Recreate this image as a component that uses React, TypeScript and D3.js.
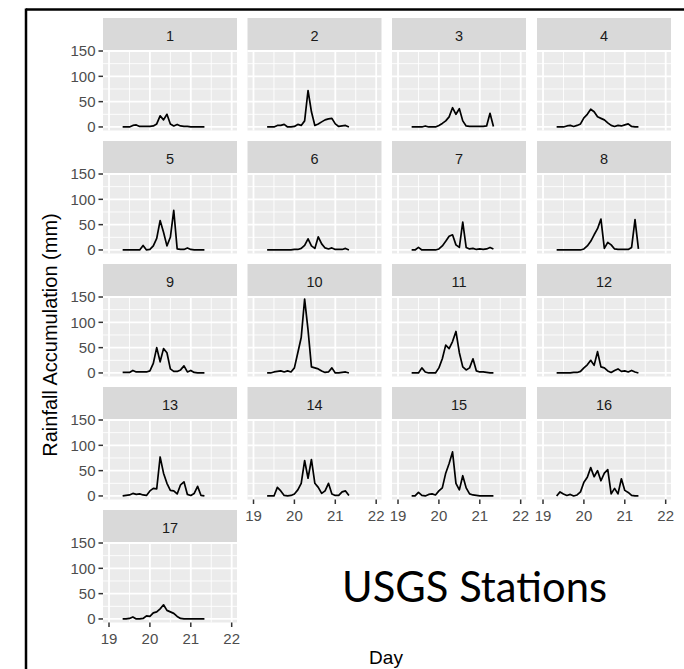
import React from 'react';
import * as d3 from 'd3';

// hours since 00:00 on day 19, one reading every 2 hours
const hours = [8, 10, 12, 14, 16, 18, 20, 22, 24, 26, 28, 30, 32, 34, 36, 38, 40, 42, 44, 46, 48, 50, 52, 54, 56];

// rainfall accumulation (mm) per USGS station
const s1 = [0, 0, 0, 3, 4, 1, 1, 1, 1, 2, 6, 22, 14, 25, 6, 2, 5, 2, 1, 1, 0, 0, 0, 0, 0];
const s2 = [0, 0, 0, 3, 3, 5, 0, 0, 1, 5, 3, 12, 72, 30, 3, 6, 10, 14, 16, 17, 6, 1, 2, 3, 0];
const s3 = [0, 0, 0, 0, 2, 0, 0, 0, 3, 7, 12, 20, 38, 25, 36, 12, 2, 1, 1, 1, 1, 1, 2, 27, 1];
const s4 = [0, 0, 0, 2, 3, 1, 3, 6, 18, 25, 35, 30, 20, 17, 14, 8, 3, 1, 3, 2, 4, 6, 1, 0, 0];
const s5 = [0, 0, 0, 0, 0, 0, 9, 0, 1, 8, 23, 58, 35, 8, 25, 78, 2, 1, 1, 4, 1, 0, 0, 0, 0];
const s6 = [0, 0, 0, 0, 0, 0, 0, 0, 1, 1, 3, 9, 22, 8, 3, 26, 12, 4, 2, 4, 1, 1, 1, 3, 0];
const s7 = [0, 0, 5, 0, 0, 0, 0, 0, 2, 8, 17, 27, 30, 10, 5, 55, 5, 2, 3, 1, 2, 1, 2, 5, 2];
const s8 = [0, 0, 0, 0, 0, 0, 0, 0, 2, 8, 17, 30, 42, 61, 3, 15, 10, 2, 1, 1, 1, 1, 5, 60, 2];
const s9 = [1, 1, 1, 5, 2, 2, 2, 2, 4, 19, 50, 22, 48, 40, 8, 3, 3, 6, 14, 2, 5, 1, 0, 0, 0];
const s10 = [0, 0, 2, 3, 4, 2, 4, 2, 10, 40, 70, 146, 85, 12, 10, 8, 4, 1, 2, 10, 0, 0, 1, 2, 0];
const s11 = [0, 0, 0, 10, 2, 0, 0, 0, 10, 28, 55, 48, 62, 82, 40, 12, 6, 10, 28, 4, 2, 2, 1, 0, 0];
const s12 = [0, 0, 0, 0, 0, 1, 1, 3, 10, 16, 25, 15, 42, 12, 10, 4, 1, 5, 8, 3, 4, 2, 5, 2, 0];
const s13 = [0, 1, 2, 5, 3, 4, 2, 1, 10, 15, 14, 77, 45, 25, 11, 10, 4, 22, 28, 3, 1, 5, 19, 1, 0];
const s14 = [0, 0, 0, 17, 10, 1, 0, 1, 4, 12, 25, 70, 35, 72, 25, 17, 5, 10, 25, 4, 1, 1, 8, 10, 1];
const s15 = [0, 0, 7, 1, 0, 3, 4, 2, 10, 16, 45, 64, 87, 25, 12, 40, 16, 4, 2, 1, 0, 0, 0, 0, 0];
const s16 = [0, 8, 4, 1, 3, 0, 2, 8, 27, 37, 56, 38, 50, 30, 45, 52, 4, 15, 4, 34, 11, 7, 1, 0, 0];
const s17 = [0, 0, 1, 4, 0, 0, 1, 6, 5, 12, 14, 20, 28, 17, 14, 11, 5, 1, 0, 0, 0, 0, 0, 0, 0];

const stations = [s1, s2, s3, s4, s5, s6, s7, s8, s9, s10, s11, s12, s13, s14, s15, s16, s17];
const stationLabels = ['1', '2', '3', '4', '5', '6', '7', '8', '9', '10', '11', '12', '13', '14', '15', '16', '17'];

const xTicks = [19, 20, 21, 22];
const xMinor = [19.5, 20.5, 21.5];
const yTicks = [0, 50, 100, 150];
const yMinor = [25, 75, 125];

const W = 684;
const H = 669;
const colLeft = [103, 247.5, 392, 537];
const rowTop = [18, 141, 264, 387, 510];
const panelW = 134;
const stripH = 32;
const panelH = 80.5;
const FONT = '"Liberation Sans", Arial, sans-serif';

const x = d3.scaleLinear().domain([18.853, 22.13]).range([0, panelW]);
const y = d3.scaleLinear().domain([-7, 152]).range([panelH, 0]);

const line = d3.line<number>()
  .x((_, i) => x(19 + hours[i] / 24))
  .y(d => y(d));

const Panel = ({ k }: { k: number }) => {
  const col = k % 4;
  const row = Math.floor(k / 4);
  const left = colLeft[col];
  const top = rowTop[row];
  const showX = k + 4 >= stations.length;
  const showY = col === 0;

  return (
    <g transform={`translate(${left},${top})`}>
      <rect width={panelW} height={stripH} fill="#d9d9d9" />
      <text x={panelW / 2} y={22.7} textAnchor="middle" fontSize={14.5} fill="#1a1a1a" fontFamily={FONT}>
        {stationLabels[k]}
      </text>
      <g transform={`translate(0,${stripH})`}>
        <rect width={panelW} height={panelH} fill="#ebebeb" />
        {yMinor.map(v => (
          <line key={'ym' + v} x1={0} x2={panelW} y1={y(v)} y2={y(v)} stroke="#fff" strokeWidth={0.9} />
        ))}
        {xMinor.map(v => (
          <line key={'xm' + v} x1={x(v)} x2={x(v)} y1={0} y2={panelH} stroke="#fff" strokeWidth={0.9} />
        ))}
        {yTicks.map(v => (
          <line key={'yM' + v} x1={0} x2={panelW} y1={y(v)} y2={y(v)} stroke="#fff" strokeWidth={1.8} />
        ))}
        {xTicks.map(v => (
          <line key={'xM' + v} x1={x(v)} x2={x(v)} y1={0} y2={panelH} stroke="#fff" strokeWidth={1.8} />
        ))}
        <path d={line(stations[k]) || ''} fill="none" stroke="#000" strokeWidth={1.7} strokeLinejoin="round" />
        {showY && yTicks.map(v => (
          <g key={'yt' + v}>
            <line x1={-4.5} x2={0} y1={y(v)} y2={y(v)} stroke="#333" strokeWidth={1.5} />
            <text x={-7.5} y={y(v) + 5.3} textAnchor="end" fontSize={15} fill="#4d4d4d" fontFamily={FONT}>{v}</text>
          </g>
        ))}
        {showX && xTicks.map(v => (
          <g key={'xt' + v}>
            <line x1={x(v)} x2={x(v)} y1={panelH} y2={panelH + 4.5} stroke="#333" strokeWidth={1.5} />
            <text x={x(v)} y={panelH + 21} textAnchor="middle" fontSize={15} fill="#4d4d4d" fontFamily={FONT}>{v}</text>
          </g>
        ))}
      </g>
    </g>
  );
};

const App = () => (
  <svg width={W} height={H} style={{ position: 'absolute', left: 0, top: 0, background: '#fff' }}>
    <rect width={W} height={H} fill="#fff" />
    {stations.map((_, k) => <Panel key={k} k={k} />)}
    <text
      transform={`translate(57,335) rotate(-90)`}
      textAnchor="middle"
      fontSize={20}
      fill="#000"
      fontFamily={FONT}
    >
      Rainfall Accumulation (mm)
    </text>
    <text x={386} y={664} textAnchor="middle" fontSize={19} fill="#000" fontFamily={FONT}>Day</text>
    <text x={342} y={602} fontSize={42} fill="#000" fontFamily="Lato, 'Open Sans', sans-serif" textLength={265} lengthAdjust="spacingAndGlyphs">
      USGS Stations
    </text>
    <line x1={26} x2={26} y1={8.5} y2={H} stroke="#000" strokeWidth={2.5} />
    <line x1={26} x2={W} y1={9.5} y2={9.5} stroke="#000" strokeWidth={2.5} />
  </svg>
);

export default App;
